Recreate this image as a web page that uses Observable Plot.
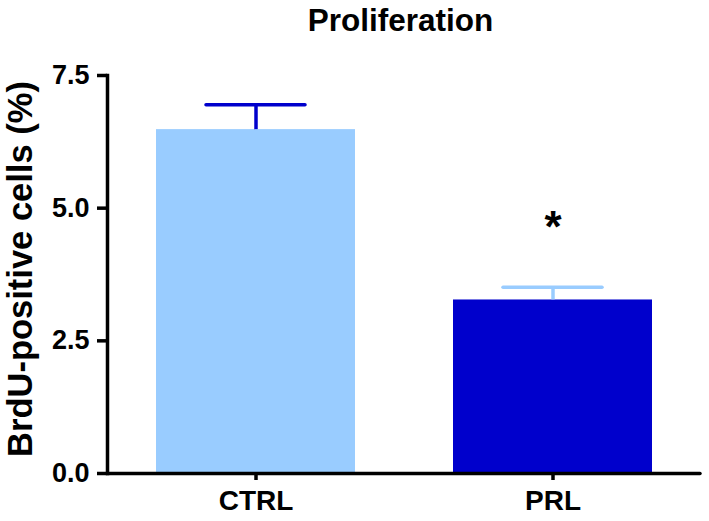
<!DOCTYPE html>
<html>
<head>
<meta charset="utf-8">
<script src="https://cdn.jsdelivr.net/npm/d3@7"></script>
<script src="https://cdn.jsdelivr.net/npm/@observablehq/plot@0.6"></script>
<style>
  html, body { margin: 0; padding: 0; background: #fff; }
  #wrap { position: relative; width: 709px; height: 521px; font-family: "Liberation Sans", Arial, sans-serif; }
  #title { position: absolute; left: 0; top: 2px; width: 801px; text-align: center; font-weight: bold; font-size: 31.5px; line-height: 36px; color: #000; }
  #ylabel { position: absolute; left: 20px; top: 269px; transform: translate(-50%, -50%) rotate(-90deg); white-space: nowrap; font-weight: bold; font-size: 34.5px; color: #000; }
</style>
</head>
<body>
<div id="wrap">
  <div id="title">Proliferation</div>
  <div id="ylabel">BrdU-positive cells (%)</div>
</div>
<script>
const groups = ["CTRL", "PRL"];
const means = [6.48, 3.27];
const sems = [0.47, 0.24];
const barColors = ["#99CCFF", "#0000CC"];
const errColors = ["#0000CC", "#99CCFF"];
const signif = ["", "*"];
const signifY = [null, 4.71];
const yTicks = [0, 2.5, 5, 7.5];

const data = groups.map((g, i) => ({
  group: g, mean: means[i], upper: means[i] + sems[i],
  fill: barColors[i], err: errColors[i], sig: signif[i], sigY: signifY[i]
}));

const plot = Plot.plot({
  width: 709,
  height: 521,
  marginLeft: 107,
  marginRight: 9,
  marginTop: 75,
  marginBottom: 48,
  style: { fontFamily: "'Liberation Sans', Arial, sans-serif", background: "transparent", overflow: "visible" },
  x: { domain: groups, paddingInner: 0.33, paddingOuter: 0.16, label: null },
  y: { domain: [0, 7.5], label: null },
  marks: [
    Plot.barY(data, { x: "group", y: "mean", fill: d => d.fill }),
    Plot.ruleX(data, { x: "group", y1: "mean", y2: "upper", stroke: d => d.err, strokeWidth: 3.5 }),
    Plot.tickY(data, { x: "group", y: "upper", stroke: d => d.err, strokeWidth: 3.5, strokeLinecap: "round", inset: 50 }),
    Plot.text(data.filter(d => d.sig), { x: "group", y: "sigY", text: "sig", fontSize: 44, fontWeight: "bold", dy: 4, fill: "#000" }),
    Plot.frame({ anchor: "left", stroke: "#000", strokeWidth: 3.5 }),
    Plot.ruleY([0], { stroke: "#000", strokeWidth: 3.5, strokeLinecap: "round" }),
    Plot.axisY({ ticks: yTicks, tickFormat: d3.format(".1f"), tickSize: 10, tickPadding: 8, strokeWidth: 3.5, fontSize: 27, fontWeight: "bold", fill: "#000", stroke: "#000", label: null }),
    Plot.axisX({ tickSize: 7, tickPadding: 10, strokeWidth: 3.5, fontSize: 28, fontWeight: "bold", fill: "#000", stroke: "#000", label: null })
  ]
});
document.getElementById("wrap").prepend(plot);
</script>
</body>
</html>
